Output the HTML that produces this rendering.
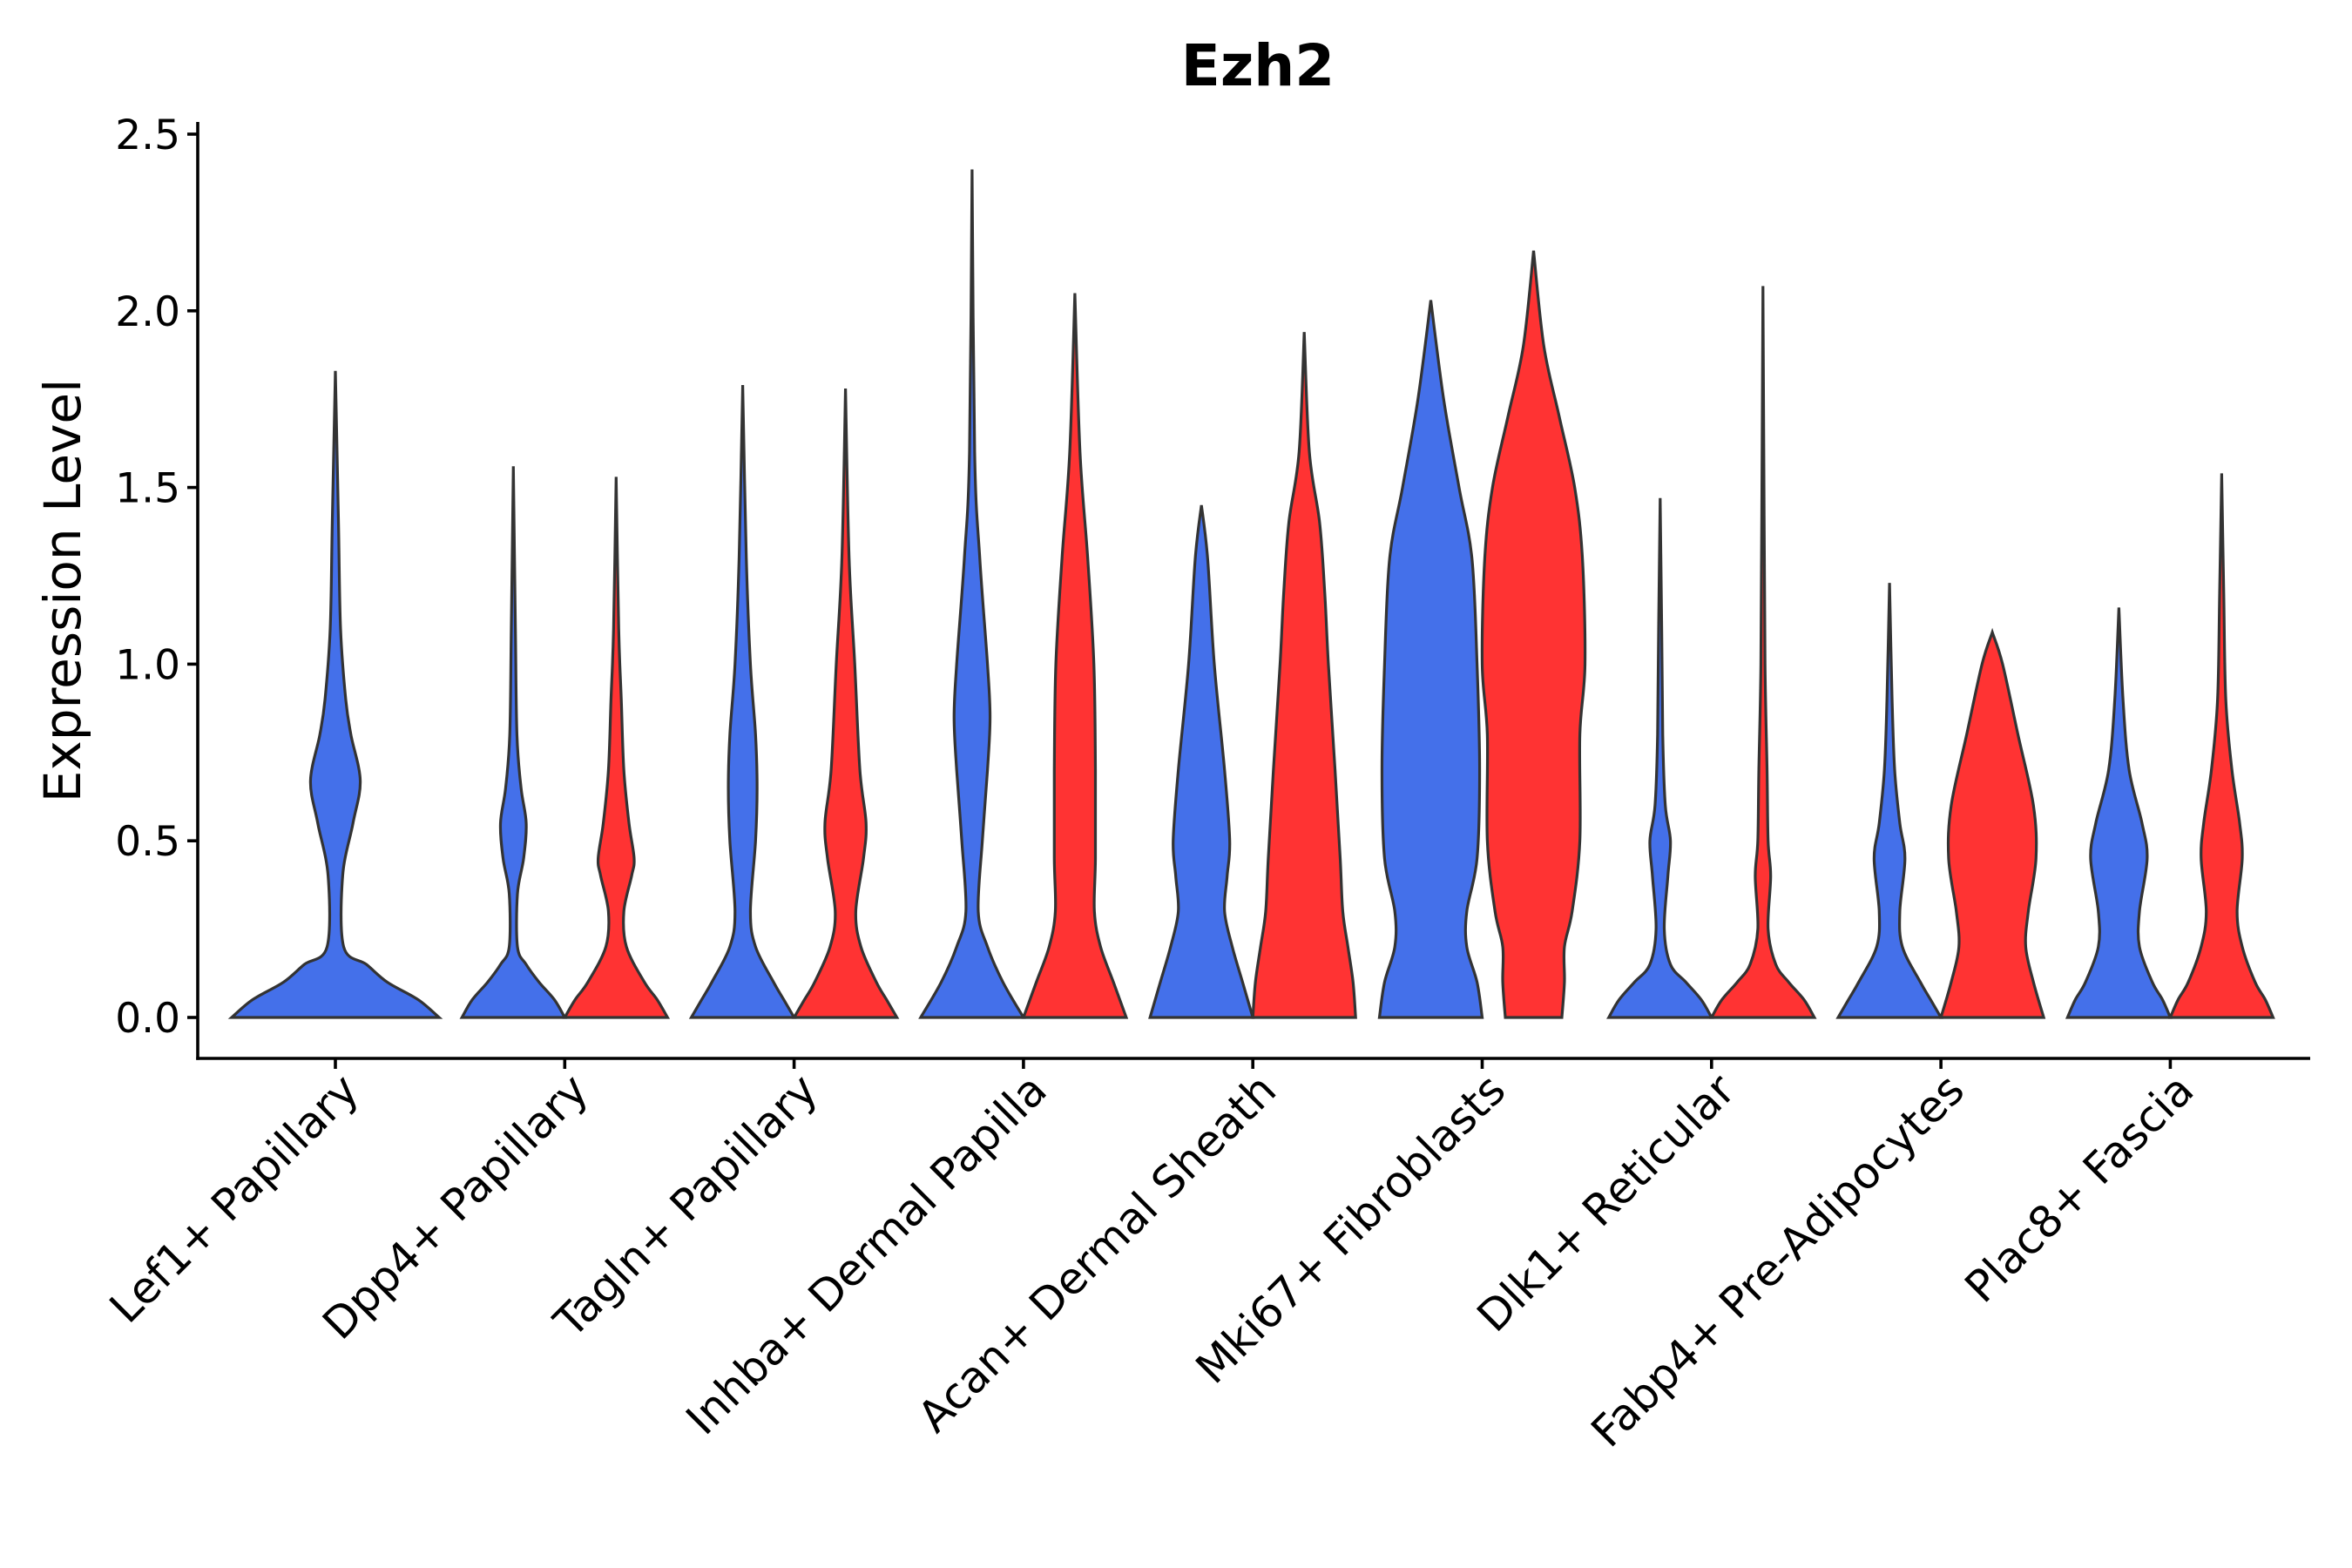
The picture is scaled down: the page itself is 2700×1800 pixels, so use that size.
<!DOCTYPE html>
<html><head><meta charset="utf-8"><style>
html,body{margin:0;padding:0;background:#fff}
svg{display:block;font-family:"DejaVu Sans","Liberation Sans",sans-serif}
</style></head><body>
<svg id="chart" width="2700" height="1800" viewBox="0 0 2700 1800" xmlns="http://www.w3.org/2000/svg">
<text x="1444" y="98" text-anchor="middle" font-size="66" font-weight="bold">Ezh2</text>
<text transform="translate(92,678) rotate(-90)" text-anchor="middle" font-size="58">Expression Level</text>
<g id="marks"></g>
<g id="axes"></g>
</svg>
<script>
const categories = ["Lef1+ Papillary","Dpp4+ Papillary","Tagln+ Papillary","Inhba+ Dermal Papilla","Acan+ Dermal Sheath","Mki67+ Fibroblasts","Dlk1+ Reticular","Fabp4+ Pre-Adipocytes","Plac8+ Fascia"];
const yTicks = [0, 0.5, 1.0, 1.5, 2.0, 2.5];
const yTickLabels = ["0.0","0.5","1.0","1.5","2.0","2.5"];
// each violin: category index, group ("blue"/"red"/"single"), value levels, relative widths
const violinCategory = [0,1,1,2,2,3,3,4,4,5,5,6,6,7,7,8,8];
const violinGroup = ["single","blue","red","blue","red","blue","red","blue","red","blue","red","blue","red","blue","red","blue","red"];
const violinLevels = [
 [0,0.05,0.1,0.15,0.2,0.4,0.55,0.67,0.8,0.9,1.1,1.4,1.83],
 [0,0.05,0.1,0.15,0.2,0.35,0.45,0.55,0.65,0.8,1.1,1.56],
 [0,0.05,0.1,0.2,0.3,0.4,0.45,0.55,0.7,0.9,1.1,1.53],
 [0,0.05,0.1,0.2,0.3,0.5,0.65,0.8,1.0,1.3,1.79],
 [0,0.05,0.1,0.2,0.3,0.45,0.55,0.7,1.0,1.3,1.78],
 [0,0.1,0.2,0.3,0.5,0.7,0.85,1.0,1.3,1.6,2.4],
 [0,0.1,0.2,0.3,0.45,0.7,1.0,1.3,1.6,2.05],
 [0,0.1,0.2,0.3,0.4,0.5,0.7,1.0,1.3,1.45],
 [0,0.1,0.2,0.3,0.45,0.7,1.0,1.2,1.4,1.6,1.94],
 [0,0.1,0.2,0.3,0.45,0.7,1.0,1.3,1.5,1.75,2.03],
 [0,0.1,0.2,0.3,0.5,0.8,1.0,1.3,1.5,1.7,1.9,2.17],
 [0,0.05,0.1,0.15,0.25,0.4,0.5,0.6,0.8,1.1,1.47],
 [0,0.05,0.1,0.15,0.25,0.4,0.5,0.7,1.0,1.5,2.07],
 [0,0.05,0.1,0.2,0.3,0.45,0.55,0.7,0.9,1.23],
 [0,0.1,0.2,0.3,0.45,0.6,0.8,1.0,1.09],
 [0,0.05,0.1,0.2,0.3,0.45,0.55,0.7,0.9,1.16],
 [0,0.05,0.1,0.2,0.3,0.45,0.55,0.7,0.9,1.2,1.54]
];
const violinWidths = [
 [1,0.8,0.5,0.3,0.08,0.07,0.17,0.24,0.15,0.1,0.05,0.03,0],
 [1,0.8,0.5,0.25,0.08,0.08,0.2,0.25,0.15,0.07,0.04,0],
 [1,0.8,0.55,0.2,0.15,0.3,0.35,0.25,0.15,0.1,0.05,0],
 [1,0.8,0.6,0.25,0.15,0.25,0.28,0.25,0.15,0.07,0],
 [1,0.8,0.6,0.3,0.2,0.35,0.4,0.28,0.18,0.07,0],
 [1,0.6,0.3,0.12,0.2,0.3,0.35,0.3,0.15,0.05,0],
 [1,0.75,0.5,0.38,0.4,0.4,0.37,0.25,0.1,0],
 [1,0.8,0.6,0.45,0.5,0.55,0.45,0.25,0.12,0],
 [1,0.95,0.85,0.75,0.7,0.6,0.47,0.4,0.3,0.1,0],
 [1,0.9,0.7,0.7,0.9,0.95,0.9,0.8,0.55,0.25,0],
 [0.55,0.6,0.6,0.75,0.9,0.9,1.0,0.95,0.8,0.5,0.2,0],
 [1,0.8,0.5,0.2,0.08,0.15,0.2,0.1,0.05,0.03,0],
 [1,0.8,0.5,0.25,0.1,0.15,0.1,0.08,0.04,0.02,0],
 [1,0.8,0.6,0.25,0.2,0.3,0.2,0.1,0.05,0],
 [1,0.8,0.65,0.7,0.85,0.8,0.5,0.2,0],
 [1,0.85,0.65,0.4,0.4,0.55,0.45,0.2,0.08,0],
 [1,0.85,0.65,0.4,0.3,0.4,0.35,0.2,0.08,0.04,0]
];
const NS="http://www.w3.org/2000/svg";
const plot={left:227,right:2652,top:140,bottom:1215};
const y0px=1168, y25px=154;
function yScale(v){return y0px+(y25px-y0px)*v/2.5;}
function xScale(i){return 385+263.3*i;}
const fills={blue:"#4470EA",red:"#FF3333",single:"#4470EA"};
const marks=document.getElementById('marks');
const axes=document.getElementById('axes');
function smoothPath(pts){
  let d="M"+pts[0][0]+","+pts[0][1];
  for(let i=0;i<pts.length-1;i++){
    const p0=pts[Math.max(i-1,0)],p1=pts[i],p2=pts[i+1],p3=pts[Math.min(i+2,pts.length-1)];
    const c1=[p1[0]+(p2[0]-p0[0])/6,p1[1]+(p2[1]-p0[1])/6];
    const c2=[p2[0]-(p3[0]-p1[0])/6,p2[1]-(p3[1]-p1[1])/6];
    d+="C"+c1[0]+","+c1[1]+" "+c2[0]+","+c2[1]+" "+p2[0]+","+p2[1];
  }
  return d;
}
violinLevels.forEach((lv,k)=>{
  const ci=violinCategory[k], g=violinGroup[k];
  let cx=xScale(ci), half=59;
  if(g==="blue"){cx-=59;} else if(g==="red"){cx+=59;}
  if(g==="single") half=119;
  const ws=violinWidths[k];
  const right=lv.map((v,i)=>[cx+half*ws[i],yScale(v)]);
  const left=lv.map((v,i)=>[cx-half*ws[i],yScale(v)]).reverse();
  let d=smoothPath(right);
  d+=" L"+left[0][0]+","+left[0][1]+smoothPath(left).replace(/^M[^C]*/,"");
  d+="Z";
  const p=document.createElementNS(NS,'path');
  p.setAttribute('d',d);
  p.setAttribute('fill',fills[g]);
  p.setAttribute('stroke','#333');
  p.setAttribute('stroke-width','3.2');
  
  
  marks.appendChild(p);
});
function line(x1,y1,x2,y2,name){
  const l=document.createElementNS(NS,'line');
  l.setAttribute('x1',x1);l.setAttribute('y1',y1);l.setAttribute('x2',x2);l.setAttribute('y2',y2);
  l.setAttribute('stroke','#000');l.setAttribute('stroke-width','3.6');
  
  
  axes.appendChild(l);
}
line(plot.left,plot.top,plot.left,plot.bottom+1.8,'y-axis-line');
line(plot.left-1.8,plot.bottom,plot.right,plot.bottom,'x-axis-line');
yTicks.forEach((t,i)=>{
  const y=yScale(t);
  line(plot.left-12,y,plot.left,y,'y-tick');
  const tx=document.createElementNS(NS,'text');
  tx.setAttribute('x',plot.left-20);tx.setAttribute('y',y+17);
  tx.setAttribute('text-anchor','end');tx.setAttribute('font-size','47');
  
  
  tx.textContent=yTickLabels[i];
  axes.appendChild(tx);
});
categories.forEach((c,i)=>{
  const x=xScale(i);
  line(x,plot.bottom,x,plot.bottom+12,'x-tick');
  const tx=document.createElementNS(NS,'text');
  tx.setAttribute('transform','translate('+(x+4)+','+(plot.bottom+14)+') rotate(-45)');
  tx.setAttribute('text-anchor','end');tx.setAttribute('font-size','50');
  tx.setAttribute('dy','0.72em');
  
  
  tx.textContent=c;
  axes.appendChild(tx);
});
</script>
</body></html>
